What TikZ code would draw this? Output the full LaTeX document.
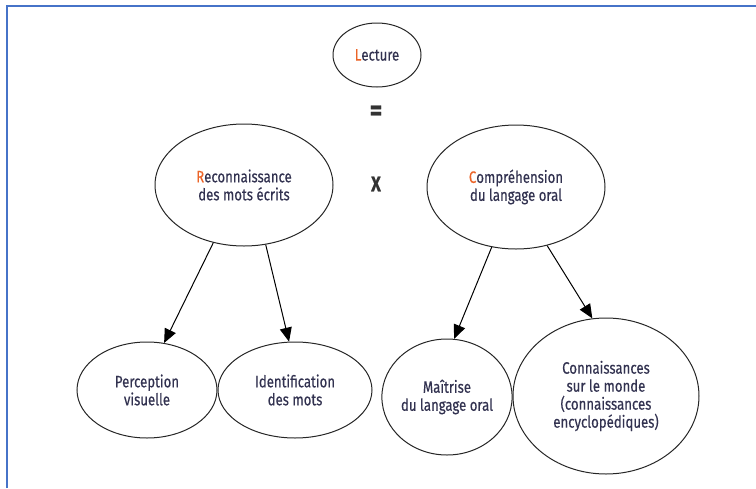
\documentclass[tikz,border=0pt]{standalone}
\usepackage{fontspec}
\setmainfont{Fira Sans}[FakeStretch=0.8,FakeBold=0.4]
\usetikzlibrary{arrows.meta,shapes.geometric}
\definecolor{txt}{RGB}{50,50,80}
\definecolor{accent}{RGB}{235,100,40}
\definecolor{frame}{RGB}{70,115,200}
\tikzset{
  oval/.style={draw=black!85, line width=1pt, ellipse, align=center, font=\fontsize{16.5}{18}\selectfont, text=txt, inner sep=0pt},
  arr/.style={line width=1pt, -{Triangle[length=14pt,width=12pt]}},
  sym/.style={font=\fontsize{30}{30}\selectfont\bfseries, text=black!80}
}
\newcommand{\fl}[1]{\textcolor{accent}{#1}}
\begin{document}
\begin{tikzpicture}[x=1pt,y=-1pt]
\useasboundingbox (0,0) rectangle (756,488);
\draw[frame, line width=1.2pt] (7,488) -- (7,6) -- (756,6);
\node[oval, minimum width=88pt, minimum height=64pt] (lec) at (377,55) {\fl{L}ecture};
\node[sym] (eq) at (376,113) {=};
\node[sym, font=\fontsize{21}{21}\selectfont\bfseries] (x) at (376,184) {X};
\node[oval, minimum width=178pt, minimum height=122pt] (rec) at (244,185) {\fl{R}econnaissance\\des mots écrits};
\node[oval, minimum width=178pt, minimum height=124pt] (com) at (516,187) {\fl{C}ompréhension\\du langage oral};
\node[oval, minimum width=140pt, minimum height=96pt] (per) at (147,390) {Perception\\visuelle};
\node[oval, minimum width=154pt, minimum height=96pt] (ide) at (295,390) {Identification\\des mots};
\node[oval, minimum width=130pt, minimum height=116pt] (mai) at (447,397) {Maîtrise\\du langage oral};
\node[oval, minimum width=186pt, minimum height=156pt] (con) at (606,396) {Connaissances\\sur le monde\\(connaissances\\encyclopédiques)};
\draw[arr] (rec.-118) -- (per.70);
\draw[arr] (rec.-70) -- (ide.97);
\draw[arr] (com.-112) -- (mai.83);
\draw[arr] (com.-62) -- (con.100);
\end{tikzpicture}
\end{document}
